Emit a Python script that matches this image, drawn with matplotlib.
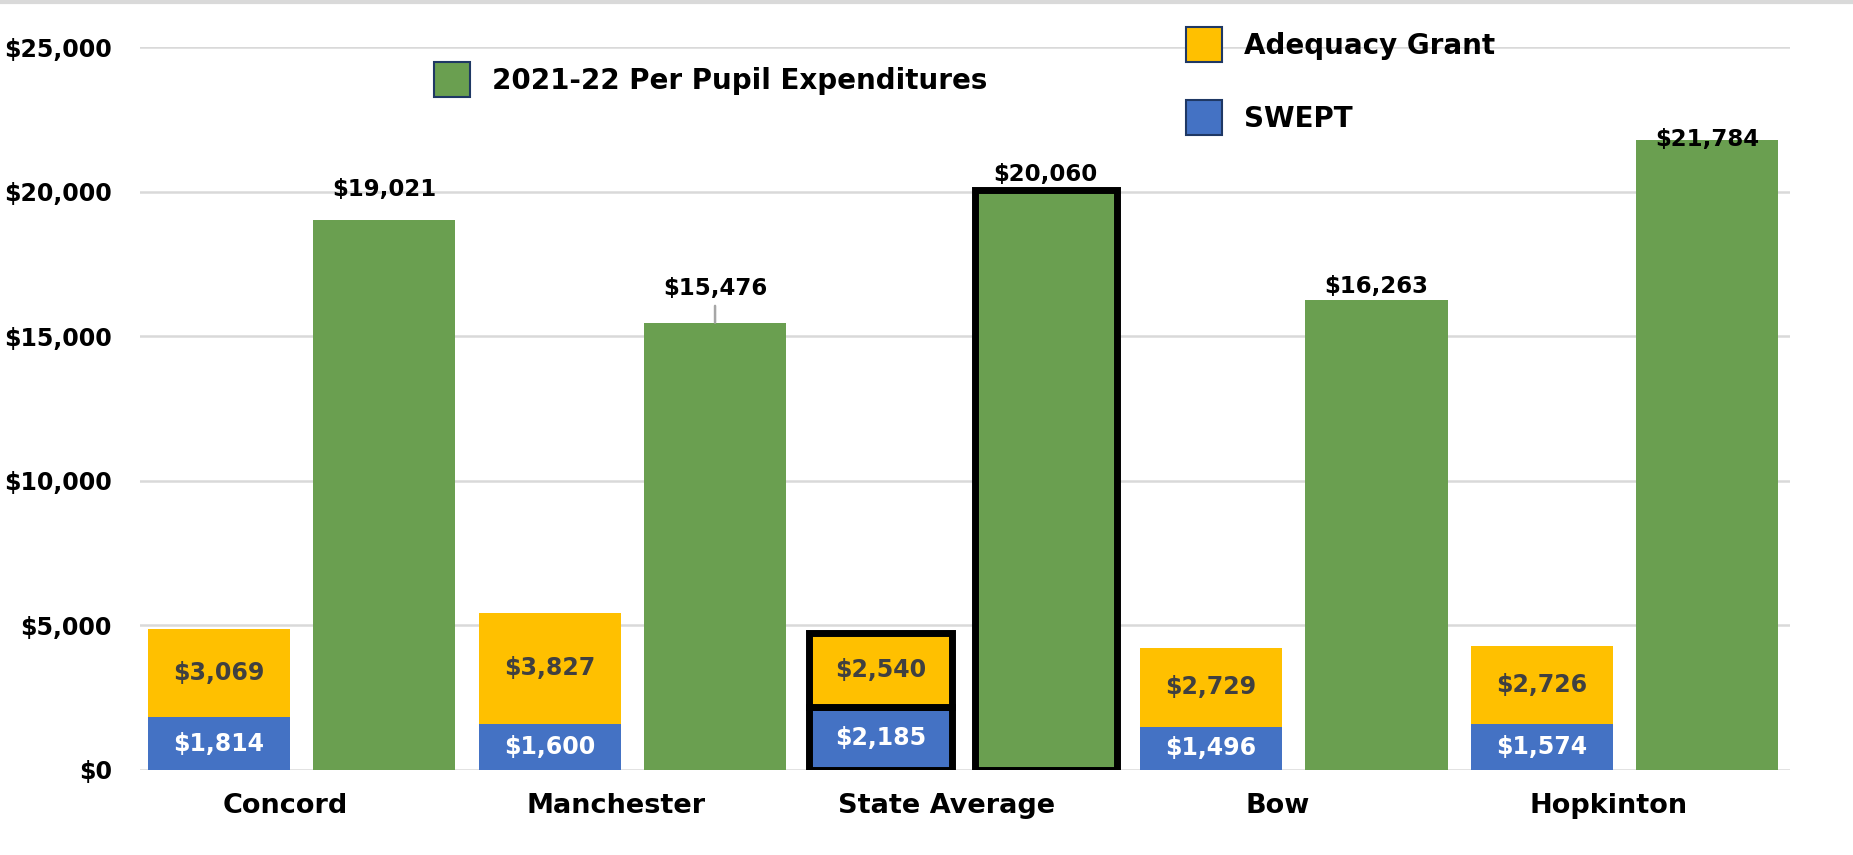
import matplotlib
matplotlib.use('Agg')
import matplotlib.pyplot as plt
from matplotlib.patches import Patch
from matplotlib.lines import Line2D
import numpy as np

categories = ['Concord', 'Manchester', 'State Average', 'Bow', 'Hopkinton']
swept = [1814, 1600, 2185, 1496, 1574]
adequacy = [3069, 3827, 2540, 2729, 2726]
per_pupil = [19021, 15476, 20060, 16263, 21784]
y_ticks = [0, 5000, 10000, 15000, 20000, 25000]

# label offsets above green bars (points), just to mimic the original placement
top_offsets = [10.5, 13.5, 0, -1.5, -11]

green = '#6A9F50'
yellow = '#FFC000'
blue = '#4472C4'
grid_c = '#D9D9D9'
navy = '#1F3864'

plt.rcParams['font.family'] = ['DejaVu Sans']
plt.rcParams['font.weight'] = 'bold'

fig = plt.figure(figsize=(18.53, 8.55), dpi=100)
ax = fig.add_axes([0.0753, 0.0996, 0.966 - 0.0753, 0.9447 - 0.0996])

x = np.arange(len(categories))
w = 0.43
hl = [c == 'State Average' for c in categories]
ec = ['black' if h else 'none' for h in hl]
lw = [5 if h else 0 for h in hl]

b1 = ax.bar(x - 0.25, swept, w, color=blue, edgecolor=ec, linewidth=lw, zorder=3)
b2 = ax.bar(x - 0.25, adequacy, w, bottom=swept, color=yellow, edgecolor=ec, linewidth=lw, zorder=3)
b3 = ax.bar(x + 0.25, per_pupil, w, color=green, edgecolor=ec, linewidth=lw, zorder=3)

for i in range(len(categories)):
    ax.text(x[i] - 0.25, swept[i] / 2, f'${swept[i]:,}', ha='center', va='center',
            color='white', fontsize=17, fontweight='bold', zorder=4)
    ax.text(x[i] - 0.25, swept[i] + adequacy[i] / 2, f'${adequacy[i]:,}', ha='center', va='center',
            color='#404040', fontsize=17, fontweight='bold', zorder=4)
    ax.annotate(f'${per_pupil[i]:,}', (x[i] + 0.25, per_pupil[i]), xytext=(0, top_offsets[i] + 3),
                textcoords='offset points', ha='center', va='bottom', fontsize=16.5,
                fontweight='bold', color='black', zorder=4)

# leader line for Manchester label
ax.annotate('', (x[1] + 0.25, per_pupil[1]), xytext=(0, 12), textcoords='offset points',
            arrowprops=dict(arrowstyle='-', color='#A6A6A6', lw=1.8, shrinkA=0, shrinkB=0),
            zorder=4)

ax.set_xlim(-0.49, 4.5)
ax.set_ylim(0, 25000)
ax.set_yticks(y_ticks)
ax.set_yticklabels([f'${v:,}' for v in y_ticks], fontsize=17, fontweight='bold')
ax.set_xticks(x - 0.05)
ax.set_xticklabels(categories, fontsize=19.5, fontweight='bold')
ax.tick_params(axis='y', length=0, pad=20)
ax.tick_params(axis='x', length=0, pad=17)
ax.grid(axis='y', color=grid_c, linewidth=1.8, zorder=0)
for s in ax.spines.values():
    s.set_visible(False)

h_green = Patch(facecolor=green, edgecolor=navy, linewidth=1.5)
h_yellow = Patch(facecolor=yellow, edgecolor=navy, linewidth=1.5)
h_blue = Patch(facecolor=blue, edgecolor=navy, linewidth=1.5)

leg1 = fig.legend([h_green], ['2021-22 Per Pupil Expenditures'], loc='center left',
                  bbox_to_anchor=(0.234, 0.907), frameon=False, borderpad=0, borderaxespad=0,
                  handlelength=1.3, handleheight=1.58, handletextpad=0.8,
                  prop={'size': 20, 'weight': 'bold'})
leg2 = fig.legend([h_yellow, h_blue], ['Adequacy Grant', 'SWEPT'], loc='center left',
                  bbox_to_anchor=(0.640, 0.905), frameon=False, borderpad=0, borderaxespad=0,
                  handlelength=1.3, handleheight=1.58, handletextpad=0.8, labelspacing=1.35,
                  prop={'size': 20, 'weight': 'bold'})

fig.add_artist(Line2D([0, 1], [0.998, 0.998], transform=fig.transFigure, color=grid_c, lw=3))

plt.savefig('out.png', dpi=100)
